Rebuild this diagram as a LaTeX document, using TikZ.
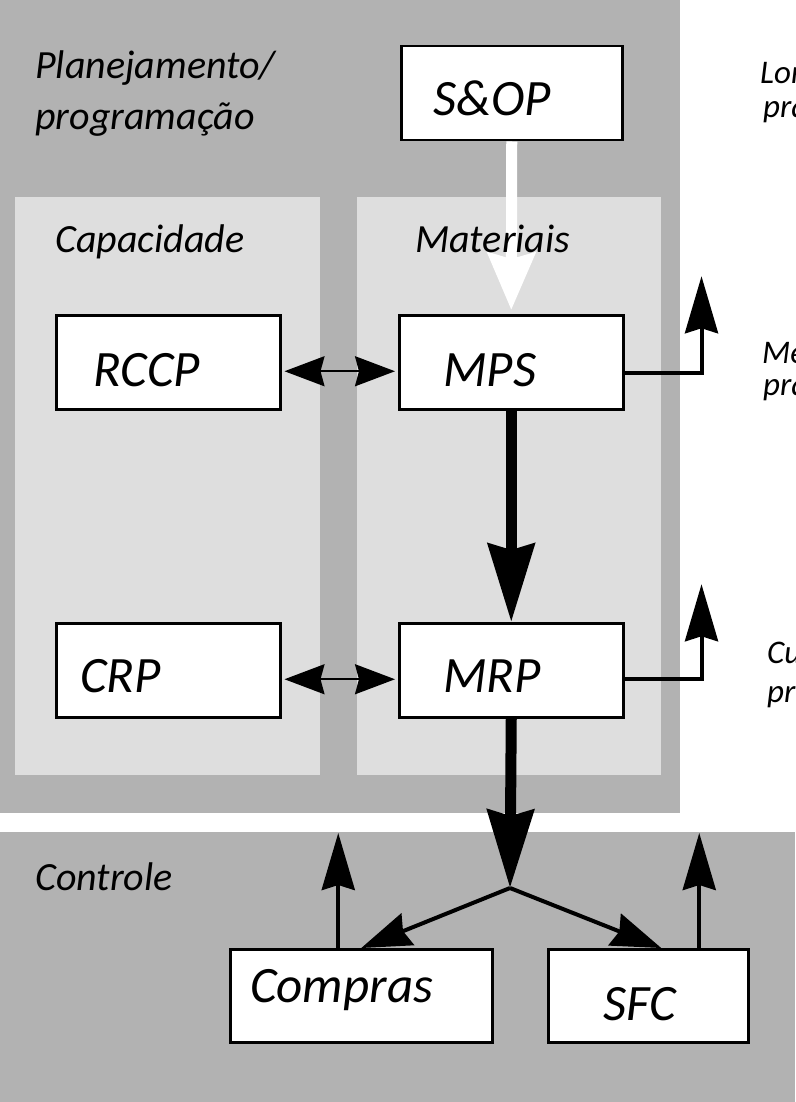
\documentclass[tikz,border=0pt]{standalone}
\usepackage{fontspec}
\setmainfont{Carlito}
\usetikzlibrary{arrows.meta}
\definecolor{paneldark}{RGB}{178,178,178}
\definecolor{panellight}{RGB}{222,222,222}
\begin{document}
\begin{tikzpicture}[x=1pt,y=-1pt,
  box/.style={draw=black, line width=2.5pt, fill=white, inner sep=0pt, anchor=north west},
  lbl/.style={anchor=base west, inner sep=0pt, font=\fontsize{51}{60}\selectfont\itshape},
  title/.style={anchor=base west, inner sep=0pt, font=\fontsize{40}{48}\selectfont\itshape},
  side/.style={anchor=base west, inner sep=0pt, font=\fontsize{33}{38}\selectfont\itshape},
  bigarrow/.style={draw=black, line width=11pt, -{Stealth[length=78pt,width=46pt,inset=6pt]}},
  whitearrow/.style={draw=white, line width=11pt, -{Stealth[length=57pt,width=47pt,inset=6pt,fill=white]}},
  medarrow/.style={draw=black, line width=4pt, -{Stealth[length=57pt,width=33pt,inset=5pt]}},
  splitarrow/.style={draw=black, line width=4pt, -{Stealth[length=50pt,width=34pt,inset=5pt]}},
  dblarrow/.style={draw=black, line width=2pt, {Stealth[length=40pt,width=30pt,inset=4pt]}-{Stealth[length=40pt,width=30pt,inset=4pt]}}]

\useasboundingbox (0,0) rectangle (795,1102);
\clip (0,0) rectangle (795,1102);
\fill[white] (0,0) rectangle (795,1102);

% panels
\fill[paneldark] (0,0) rectangle (680,813);
\fill[paneldark] (0,832) rectangle (795,1102);
\fill[panellight] (15,197) rectangle (320,775);
\fill[panellight] (357,197) rectangle (661,775);

% boxes
\node[box, minimum width=221pt, minimum height=94pt] (sop) at (400,45) {};
\node[box, minimum width=224pt, minimum height=94pt] (mps) at (398,314) {};
\node[box, minimum width=224pt, minimum height=94pt] (rccp) at (55,314) {};
\node[box, minimum width=224pt, minimum height=94pt] (crp) at (55,622) {};
\node[box, minimum width=224pt, minimum height=94pt] (mrp) at (398,622) {};
\node[box, minimum width=262pt, minimum height=93pt] (compras) at (229,948) {};
\node[box, minimum width=200pt, minimum height=93pt] (sfc) at (547,948) {};

% flows
\coordinate (jn) at (510,888);
\draw[whitearrow, shorten >=4pt] (sop.south) -- (mps.north);
\draw[bigarrow] (mps.south) -- (mrp.north);
\draw[bigarrow] (mrp.south) -- (jn);
\draw[splitarrow] (jn) -- (compras.north);
\draw[splitarrow] (jn) -- ([xshift=13pt]sfc.north);
\draw[medarrow] ([xshift=-23pt]compras.north) -- ++(0,-115);
\draw[medarrow] ([xshift=51pt]sfc.north) -- ++(0,-115);
\draw[medarrow] ([yshift=-11pt]mps.east) -| ++(77,-97);
\draw[medarrow] ([yshift=-9pt]mrp.east) -| ++(77,-95);
\draw[dblarrow, shorten <=3pt, shorten >=3pt] ([yshift=-9pt]rccp.east) -- ([yshift=-9pt]mps.west);
\draw[dblarrow, shorten <=3pt, shorten >=3pt] ([yshift=-9pt]crp.east) -- ([yshift=-9pt]mrp.west);

% panel titles
\node[title] (tplan) at (35,79) {Planejamento/};
\node[title] (tprog) at (35,130) {programação};
\node[title] (tcap) at (55,252) {Capacidade};
\node[title] (tmat) at (415,252) {Materiais};
\node[title] (tctl) at (35,890) {Controle};

% horizon notes on the right
\node[side] (hl1) at (760,84) {Longo};
\node[side] (hl2) at (763,118) {prazo};
\node[side] (hm1) at (762,363) {Médio};
\node[side] (hm2) at (763,395) {prazo};
\node[side] (hc1) at (767,663) {Curto};
\node[side] (hc2) at (767,702) {prazo};

% box labels
\node[lbl] (lsop) at (433,116) {S\&OP};
\node[lbl] (lmps) at (443,386) {MPS};
\node[lbl] (lrccp) at (93,386) {RCCP};
\node[lbl] (lcrp) at (80,692) {CRP};
\node[lbl] (lmrp) at (443,692) {MRP};
\node[lbl] (lcompras) at (250,1002) {Compras};
\node[lbl] (lsfc) at (603,1020) {SFC};
\end{tikzpicture}
\end{document}
